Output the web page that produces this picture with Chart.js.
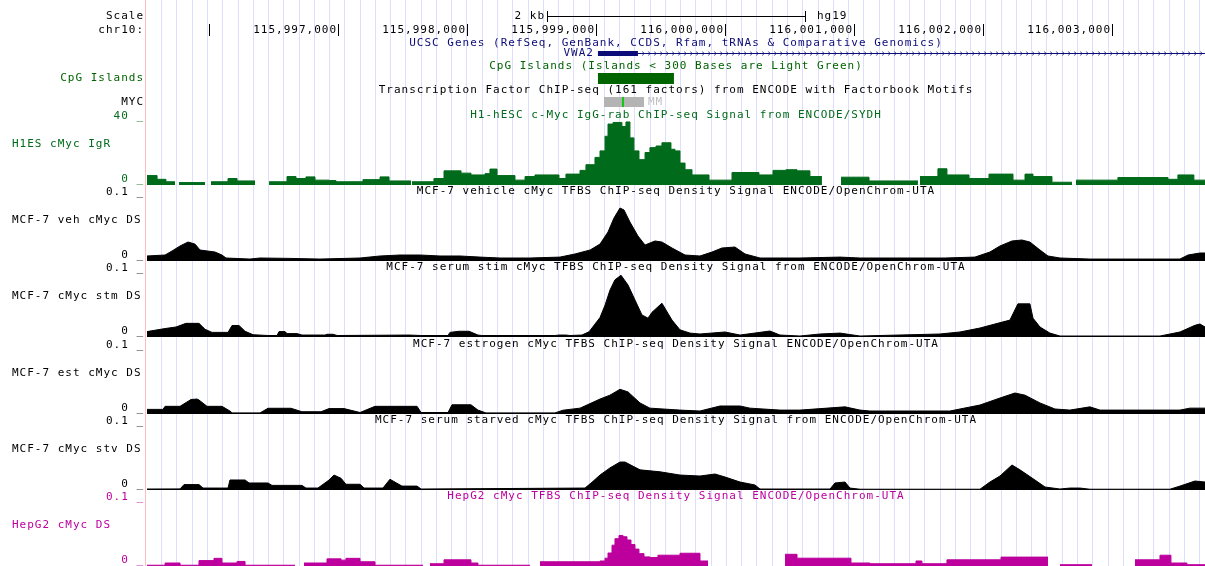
<!DOCTYPE html>
<html>
<head>
<meta charset="utf-8">
<script src="https://cdn.jsdelivr.net/npm/chart.js@4.4.1/dist/chart.umd.min.js"></script>
<style>
    body { margin: 0; background: #fff; }
    #browser { position: relative; width: 1205px; height: 566px; overflow: hidden; }
    #browser canvas { position: absolute; }
</style>
</head>
<body>
<div id="browser">
    <canvas id="frame" width="1205" height="566"></canvas>
</div>
<script>
// window shown: chr10 (hg19), positions below are bp from chromStart
const chromStart = 115995520;
const chromEnd = 116003720;
const chromTicks = [115996000, 115997000, 115998000, 115999000, 116000000, 116001000, 116002000, 116003000];
const scaleBarBp = 2000;

// UCSC Genes: VWA2 (+ strand), CpG island, MYC factor cluster
const geneThick = [115999015, 115999325];
const cpgIsland = [115999015, 115999604];
const mycCluster = [115999062, 115999372];
const mycMotif = [115999201, 115999217];

// H1-hESC c-Myc IgG-rab signal (null = no data)
const h1esPos = [0, 78, 147, 217, 217, 248, 450, 450, 496, 628, 698, 837, 837, 946, 1085, 1155, 1232, 1302, 1411, 1465,
    1674, 1806, 1876, 2046, 2046, 2054, 2224, 2302, 2434, 2511, 2620, 2658, 2713, 2852, 2930, 3007, 3193, 3247, 3356, 3402,
    3472, 3511, 3550, 3573, 3612, 3681, 3712, 3743, 3774, 3813, 3860, 3898, 3945, 3991, 4061, 4092, 4131, 4170, 4224, 4356,
    4534, 4743, 4852, 4952, 5038, 5138, 5231, 5231, 5379, 5596, 5975, 5975, 5991, 6130, 6200, 6371, 6526, 6712, 6805, 6867,
    7014, 7169, 7169, 7200, 7525, 7913, 7990, 8114, 8200];
const h1esVal = [5.8, 3.5, 2, 2, null, 1.5, 1.5, null, 2, 4, 2.5, 2.5, null, 2, 5.2, 4, 5, 3, 2.7, 2,
    3.3, 5, 2.5, 2.5, null, 2, 4, 8.7, 7.3, 6.2, 7, 9.8, 5.8, 3, 5.2, 6.2, 4, 6.7, 9, 12.5,
    17, 21, 30, 37.5, 38.5, 36, 38.8, 29, 21, 15.6, 20, 23, 24, 26, 22, 21, 13.5, 9.4, 6.2, 3,
    7.7, 6.2, 9, 9.4, 8.7, 5.2, 5.2, null, 4.8, 2.5, 2.5, null, 5.2, 10, 6.2, 4, 6.7, 3, 6.7, 5.2,
    1.7, 1.7, null, 3, 4.6, 3.5, 6.2, 3, 3];

// MCF-7 vehicle
const vehPos = [0, 140, 194, 256, 318, 372, 411, 527, 581, 612, 798, 876, 1108, 1341, 1651, 1806, 1961, 2116, 2271, 2426,
    2581, 2736, 2968, 3201, 3317, 3434, 3511, 3573, 3619, 3666, 3697, 3743, 3805, 3860, 3937, 3991, 4069, 4170, 4286, 4379,
    4456, 4557, 4635, 4751, 5061, 5371, 5526, 6185, 6417, 6533, 6611, 6704, 6781, 6843, 6921, 6983, 7076, 7308, 8006, 8068,
    8161, 8200];
const vehVal = [.0077, .0092, .0154, .0231, .0292, .026, .0169, .0138, .0092, .0046, .003, .0046, .004, .003, .0046, .0077, .0092, .0092, .0077, .0077,
    .006, .0046, .0046, .006, .0108, .0169, .026, .0446, .066, .0815, .0785, .06, .0385, .0246, .0308, .0292, .02, .0092, .0077, .0138,
    .02, .0215, .0108, .0046, .0046, .006, .0046, .0046, .006, .0138, .0231, .0308, .0323, .0292, .0169, .0077, .0046, .003, .003, .0092,
    .0123, .0123];

// MCF-7 serum stim
const stmPos = [0, 140, 225, 302, 403, 450, 504, 628, 659, 713, 760, 822, 938, 1008, 1023, 1070, 1085, 1163, 1201, 1380,
    1395, 1442, 1473, 2031, 2124, 2333, 2348, 2418, 2496, 2565, 2596, 3162, 3193, 3247, 3278, 3371, 3426, 3511, 3550, 3588,
    3627, 3674, 3728, 3782, 3836, 3883, 3914, 3991, 4069, 4131, 4208, 4286, 4480, 4596, 4828, 4906, 5061, 5216, 5371, 5526,
    6146, 6301, 6456, 6572, 6688, 6750, 6843, 6867, 6921, 6998, 7076, 7851, 8006, 8122, 8161, 8200];
const stmVal = [.0083, .013, .0154, .021, .021, .0118, .0071, .0071, .0177, .0177, .0088, .0035, .0023, .0023, .0083, .0083, .0052, .0052, .003, .003,
    .0042, .0042, .0023, .003, .0023, .0023, .0071, .0088, .0088, .003, .0023, .0023, .003, .003, .0023, .003, .008, .03, .049, .072,
    .088, .095, .08, .057, .034, .029, .038, .052, .026, .011, .006, .0046, .0077, .003, .0092, .003, .0015, .0046, .006, .0015,
    .0046, .0077, .0138, .02, .026, .051, .051, .029, .0154, .006, .0015, .0015, .0077, .018, .02, .0154];

// MCF-7 estrogen
const estPos = [0, 124, 140, 256, 341, 388, 403, 465, 581, 643, 659, 876, 938, 1116, 1201, 1349, 1411, 1527, 1651, 1767,
    2093, 2124, 2333, 2364, 2511, 2565, 2627, 3162, 3224, 3356, 3511, 3588, 3666, 3728, 3821, 3898, 4131, 4286, 4441, 4596,
    4673, 4906, 5061, 5410, 5526, 5603, 6223, 6456, 6611, 6727, 6805, 6921, 7037, 7153, 7308, 7386, 8006, 8083, 8200];
const estVal = [.0071, .0071, .0118, .0118, .0223, .023, .0215, .0118, .0118, .0046, .0017, .0017, .0088, .0088, .0035, .0035, .0083, .0083, .0023, .0118,
    .0118, .0023, .0023, .0142, .0142, .006, .0017, .0017, .0058, .009, .023, .029, .038, .034, .017, .009, .006, .0046, .0123, .0123,
    .009, .006, .006, .011, .006, .0046, .0046, .0138, .0246, .0323, .029, .017, .0077, .006, .011, .006, .006, .009, .009];

// MCF-7 serum starved
const stvPos = [0, 256, 287, 403, 434, 628, 643, 760, 791, 938, 969, 1201, 1232, 1325, 1411, 1449, 1504, 1542, 1651, 1682,
    1829, 1883, 1976, 2093, 2124, 3395, 3449, 3511, 3588, 3666, 3705, 3821, 3976, 4131, 4286, 4402, 4480, 4596, 4712, 4751,
    5294, 5332, 5410, 5448, 5526, 6456, 6533, 6611, 6704, 6766, 6882, 6960, 7076, 7153, 7231, 7308, 7928, 8006, 8122, 8200];
const stvVal = [.0015, .0017, .0083, .0083, .003, .003, .0154, .0154, .0108, .0108, .0071, .0071, .003, .003, .0154, .023, .018, .0088, .0088, .003,
    .003, .0165, .006, .006, .0015, .003, .012, .023, .034, .043, .043, .031, .028, .023, .0215, .0246, .02, .0123, .0077, .0015,
    .0015, .0108, .0123, .003, .0012, .0012, .0123, .0215, .0385, .031, .0154, .0046, .0015, .003, .003, .0012, .0012, .006, .0138, .0123];

// HepG2 (null = no data)
const hepPos = [0, 140, 256, 403, 519, 581, 698, 760, 1147, 1147, 1217, 1395, 1504, 1542, 1651, 1767, 2139, 2139, 2193, 2302,
    2511, 2565, 2968, 2968, 3046, 3511, 3550, 3573, 3604, 3627, 3658, 3689, 3720, 3751, 3782, 3813, 3852, 3898, 3960, 4131,
    4286, 4348, 4348, 4945, 5038, 5456, 5603, 5960, 6006, 6200, 6619, 6983, 6983, 7076, 7324, 7324, 7657, 7851, 7936, 8060,
    8200];
const hepVal = [.0012, .0046, .0012, .0083, .0118, .0046, .007, .0012, .0012, null, .0046, .011, .009, .0118, .0065, .0012, .0012, null, .0035, .0095,
    .0046, .0012, .0012, null, .0065, .0077, .012, .02, .032, .042, .047, .045, .04, .033, .026, .019, .014, .013, .0166, .0196,
    .0077, .0077, null, .018, .012, .0046, .0035, .0077, .0035, .0095, .0137, .0137, null, .002, .002, null, .0095, .0166, .0046, .002,
    .002];

const GREEN = 'rgb(0,107,27)';
const MAGENTA = 'rgb(189,0,157)';
const NAVY = 'rgb(12,12,120)';
const FONT = '11px "DejaVu Sans Mono"';

const tracks = [
    {pos: h1esPos, val: h1esVal, top: 120, max: 40, maxLabel: '40', color: GREEN, stepped: true,
        label: 'H1ES cMyc IgR', title: 'H1-hESC c-Myc IgG-rab ChIP-seq Signal from ENCODE/SYDH'},
    {pos: vehPos, val: vehVal, top: 196, max: 0.1, maxLabel: '0.1', color: '#000', stepped: false,
        label: 'MCF-7 veh cMyc DS', title: 'MCF-7 vehicle cMyc TFBS ChIP-seq Density Signal ENCODE/OpenChrom-UTA'},
    {pos: stmPos, val: stmVal, top: 272, max: 0.1, maxLabel: '0.1', color: '#000', stepped: false,
        label: 'MCF-7 cMyc stm DS', title: 'MCF-7 serum stim cMyc TFBS ChIP-seq Density Signal from ENCODE/OpenChrom-UTA'},
    {pos: estPos, val: estVal, top: 349, max: 0.1, maxLabel: '0.1', color: '#000', stepped: false,
        label: 'MCF-7 est cMyc DS', title: 'MCF-7 estrogen cMyc TFBS ChIP-seq Density Signal ENCODE/OpenChrom-UTA'},
    {pos: stvPos, val: stvVal, top: 425, max: 0.1, maxLabel: '0.1', color: '#000', stepped: false,
        label: 'MCF-7 cMyc stv DS', title: 'MCF-7 serum starved cMyc TFBS ChIP-seq Density Signal from ENCODE/OpenChrom-UTA'},
    {pos: hepPos, val: hepVal, top: 501, max: 0.1, maxLabel: '0.1', color: MAGENTA, stepped: true,
        label: 'HepG2 cMyc DS', title: 'HepG2 cMyc TFBS ChIP-seq Density Signal ENCODE/OpenChrom-UTA'},
];
const trackHeight = 65;
const labelWidth = 147;

// light blue guide lines, every ~118 bp like the browser draws them
const guidePositions = () => {
    let out = [];
    for (let v = chromStart + 114; v < chromEnd; v += 118.3) out.push(v);
    return out;
}

const write = (ctx, str, x, y, align, color) => {
    ctx.fillStyle = color;
    ctx.textAlign = align;
    ctx.fillText(str, x, y);
}

const browserFrame = {
    id: 'browserFrame',
    afterDraw(chart) {
        const ctx = chart.ctx;
        const area = chart.chartArea;
        const xs = chart.scales.x;
        const px = bp => xs.getPixelForValue(bp);
        const mid = (area.left + area.right) / 2;

        ctx.save();
        ctx.font = FONT;
        ctx.letterSpacing = '1px';
        ctx.textBaseline = 'middle';

        // pink border of the label column
        ctx.fillStyle = 'rgb(255,190,190)';
        ctx.fillRect(area.left - 2, 0, 1, chart.height);

        // scale bar
        const centerBp = (chromStart + chromEnd) / 2;
        const sbL = Math.round(px(centerBp - scaleBarBp / 2));
        const sbR = Math.round(px(centerBp + scaleBarBp / 2));
        ctx.fillStyle = '#000';
        ctx.fillRect(sbL, 16, sbR - sbL, 1);
        ctx.fillRect(sbL, 11, 1, 11);
        ctx.fillRect(sbR, 11, 1, 11);
        write(ctx, 'Scale', 144, 16, 'right', '#000');
        write(ctx, (scaleBarBp / 1000) + ' kb', sbL - 2, 16, 'right', '#000');
        write(ctx, 'hg19', sbR + 12, 16, 'left', '#000');

        // chromosome ruler
        write(ctx, 'chr10:', 144, 30, 'right', '#000');
        chromTicks.forEach(t => {
            const x = Math.round(px(t));
            ctx.fillStyle = '#000';
            ctx.fillRect(x, 24, 1, 12);
            const lbl = t.toLocaleString('en-US');
            if (x - ctx.measureText(lbl).width > area.left + 4) write(ctx, lbl, x - 1, 30, 'right', '#000');
        });

        // UCSC genes
        write(ctx, 'UCSC Genes (RefSeq, GenBank, CCDS, Rfam, tRNAs & Comparative Genomics)', mid, 43, 'center', NAVY);
        const g0 = px(geneThick[0]), g1 = px(geneThick[1]);
        ctx.fillStyle = NAVY;
        ctx.fillRect(g0, 51, g1 - g0, 5);
        ctx.fillRect(g1, 53, area.right - g1, 1);
        ctx.strokeStyle = NAVY;
        ctx.lineWidth = 0.8;
        ctx.beginPath();
        for (let x = g1 + 6; x < area.right; x += 6) {
            ctx.moveTo(x - 1.5, 51.5);
            ctx.lineTo(x, 53.5);
            ctx.lineTo(x - 1.5, 55.5);
        }
        ctx.stroke();
        write(ctx, 'VWA2', g0 - 4, 53, 'right', NAVY);

        // CpG islands
        write(ctx, 'CpG Islands (Islands < 300 Bases are Light Green)', mid, 66, 'center', 'rgb(0,100,0)');
        write(ctx, 'CpG Islands', 144, 78, 'right', 'rgb(0,100,0)');
        ctx.fillStyle = 'rgb(0,100,0)';
        ctx.fillRect(px(cpgIsland[0]), 73, px(cpgIsland[1]) - px(cpgIsland[0]), 11);

        // TF clusters
        write(ctx, 'Transcription Factor ChIP-seq (161 factors) from ENCODE with Factorbook Motifs', mid, 90, 'center', '#000');
        write(ctx, 'MYC', 144, 102, 'right', '#000');
        ctx.fillStyle = 'rgb(180,180,180)';
        ctx.fillRect(px(mycCluster[0]), 97, px(mycCluster[1]) - px(mycCluster[0]), 10);
        ctx.fillStyle = 'rgb(20,200,20)';
        ctx.fillRect(px(mycMotif[0]), 97, Math.max(2, px(mycMotif[1]) - px(mycMotif[0])), 10);
        write(ctx, 'MM', px(mycCluster[1]) + 4, 102, 'left', 'rgb(190,190,190)');

        // wiggle track labels
        tracks.forEach(t => {
            const bottom = t.top + trackHeight;
            write(ctx, t.title, mid, t.top - 5, 'center', t.color);
            write(ctx, t.label, 12, t.top + 24, 'left', t.color);
            write(ctx, t.maxLabel + ' _', 144, t.top - 4, 'right', t.color);
            write(ctx, '0 _', 144, bottom - 6, 'right', t.color);
        });
        ctx.restore();
    }
};

new Chart(document.getElementById('frame'), {
    type: 'line',
    data: {datasets: []},
    options: {
        responsive: false,
        animation: false,
        layout: {padding: {left: labelWidth, right: 0, top: 0, bottom: 0}},
        plugins: {legend: {display: false}, tooltip: {enabled: false}},
        scales: {
            x: {
                type: 'linear', min: chromStart, max: chromEnd,
                afterBuildTicks: scale => { scale.ticks = guidePositions().map(v => ({value: v})); },
                ticks: {display: false},
                border: {display: false},
                grid: {color: 'rgb(222,222,255)', drawTicks: false, lineWidth: 1}
            },
            y: {display: false, min: 0, max: 1}
        }
    },
    plugins: [browserFrame]
});

// one chart per wiggle track, laid over the frame
tracks.forEach(t => {
    const canvas = document.createElement('canvas');
    canvas.width = 1205 - labelWidth;
    canvas.height = trackHeight;
    canvas.style.left = labelWidth + 'px';
    canvas.style.top = t.top + 'px';
    document.getElementById('browser').appendChild(canvas);

    new Chart(canvas, {
        type: 'line',
        data: {
            datasets: [{
                data: t.pos.map((p, i) => ({x: chromStart + p, y: t.val[i]})),
                fill: 'origin',
                backgroundColor: t.color,
                borderColor: t.color,
                borderWidth: 1,
                pointRadius: 0,
                stepped: t.stepped,
                spanGaps: false,
                tension: 0
            }]
        },
        options: {
            responsive: false,
            animation: false,
            layout: {padding: 0},
            plugins: {legend: {display: false}, tooltip: {enabled: false}},
            scales: {
                x: {type: 'linear', min: chromStart, max: chromEnd, display: false},
                y: {min: 0, max: t.max, display: false}
            }
        }
    });
});
</script>
</body>
</html>
